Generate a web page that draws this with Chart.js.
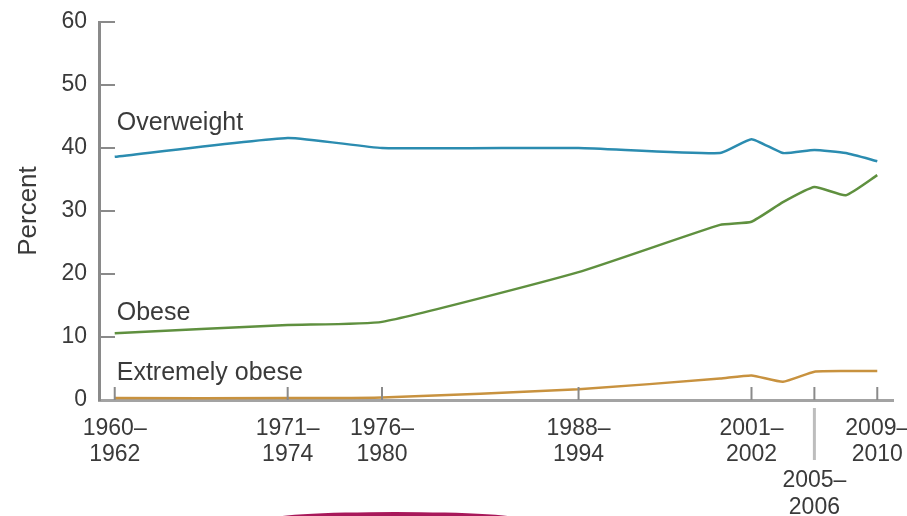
<!DOCTYPE html>
<html>
<head>
<meta charset="utf-8">
<script src="https://cdn.jsdelivr.net/npm/chart.js@4"></script>
<style>
  body { margin: 0; background: #fff; }
</style>
</head>
<body>
<canvas id="chart" width="907" height="516"></canvas>
<script>
// survey periods, plotted at their mid year
const surveyYears = [1961, 1972, 1978, 1990.5, 1999.5, 2001.5, 2003.5, 2005.5, 2007.5, 2009.5];
const overweight = [38.6, 41.6, 40.0, 40.0, 39.2, 41.4, 39.2, 39.7, 39.2, 37.9];
const obese = [10.6, 11.9, 12.4, 20.3, 27.8, 28.3, 31.4, 33.8, 32.5, 35.7];
const extremelyObese = [0.3, 0.3, 0.4, 1.7, 3.4, 3.9, 2.9, 4.5, 4.6, 4.6];

const tickYears = [1961, 1972, 1978, 1990.5, 2001.5, 2005.5, 2009.5];
const tickLabels = [
  ['1960–', '1962'],
  ['1971–', '1974'],
  ['1976–', '1980'],
  ['1988–', '1994'],
  ['2001–', '2002'],
  ['', '', '2005–', '2006'],
  ['2009–', '2010']
];
const yTicks = [0, 10, 20, 30, 40, 50, 60];

const seriesNames = ['Overweight', 'Obese', 'Extremely obese'];
const seriesLabelY = [44, 13.8, 4.3];
const colors = ['#2b8cb0', '#5f903f', '#c8923f'];

const FONT = '"Liberation Sans", Arial, sans-serif';
const TEXT = '#3a3a3a';

const toPoints = vals => vals.map((v, i) => ({ x: surveyYears[i], y: v }));

const extras = {
  id: 'extras',
  afterDraw(chart) {
    const { ctx, scales: { x, y } } = chart;
    ctx.save();
    // inner tick marks
    ctx.strokeStyle = '#8a8a8a';
    ctx.lineWidth = 2;
    yTicks.forEach(v => {
      if (v === 0) return;
      const py = y.getPixelForValue(v);
      ctx.beginPath();
      ctx.moveTo(x.left, py);
      ctx.lineTo(x.left + 16, py);
      ctx.stroke();
    });
    tickYears.forEach(v => {
      const px = x.getPixelForValue(v);
      ctx.beginPath();
      ctx.moveTo(px, y.bottom);
      ctx.lineTo(px, y.bottom - 13);
      ctx.stroke();
    });
    // connector for the lowered 2005–2006 label
    const pc = x.getPixelForValue(tickYears[5]);
    ctx.strokeStyle = '#bdbdbd';
    ctx.lineWidth = 3;
    ctx.beginPath();
    ctx.moveTo(pc, y.bottom + 8);
    ctx.lineTo(pc, y.bottom + 60);
    ctx.stroke();
    // series labels
    ctx.font = '25px ' + FONT;
    ctx.fillStyle = TEXT;
    ctx.textBaseline = 'middle';
    seriesNames.forEach((name, i) => {
      ctx.fillText(name, x.getPixelForValue(surveyYears[0]) + 2, y.getPixelForValue(seriesLabelY[i]));
    });
    // partial shape at the bottom edge
    ctx.fillStyle = '#a8185a';
    ctx.beginPath();
    ctx.ellipse(395, 520, 130, 8, 0, 0, Math.PI * 2);
    ctx.fill();
    ctx.restore();
  }
};

new Chart(document.getElementById('chart'), {
  type: 'line',
  data: {
    datasets: [
      { label: seriesNames[0], data: toPoints(overweight), borderColor: colors[0] },
      { label: seriesNames[1], data: toPoints(obese), borderColor: colors[1] },
      { label: seriesNames[2], data: toPoints(extremelyObese), borderColor: colors[2] }
    ].map(d => Object.assign(d, {
      borderWidth: 2.5,
      pointRadius: 0,
      fill: false,
      tension: 0.15,
      clip: false
    }))
  },
  options: {
    responsive: false,
    animation: false,
    layout: { padding: { top: 22, right: 14, bottom: 0, left: 0 } },
    plugins: {
      legend: { display: false },
      tooltip: { enabled: false }
    },
    scales: {
      x: {
        type: 'linear',
        min: 1960,
        max: 2010.5,
        afterBuildTicks: s => { s.ticks = tickYears.map(v => ({ value: v })); },
        afterFit: s => { s.height = 116; s.paddingLeft = 0; s.paddingRight = 0; },
        grid: { color: 'transparent', drawTicks: false },
        border: { color: '#a3a3a3', width: 3 },
        ticks: {
          autoSkip: false,
          maxRotation: 0,
          padding: 15,
          color: TEXT,
          font: { family: FONT, size: 23, lineHeight: 1.15 },
          callback: v => tickLabels[tickYears.indexOf(v)]
        }
      },
      y: {
        min: 0,
        max: 60,
        afterBuildTicks: s => { s.ticks = yTicks.map(v => ({ value: v })); },
        afterFit: s => { s.width = 99; s.paddingTop = 0; s.paddingBottom = 0; },
        grid: { color: 'transparent', drawTicks: false },
        border: { color: '#8a8a8a', width: 3 },
        ticks: {
          padding: 12,
          color: TEXT,
          font: { family: FONT, size: 23 }
        },
        title: {
          display: true,
          text: 'Percent',
          color: TEXT,
          padding: { top: 13, bottom: 0 },
          font: { family: FONT, size: 26 }
        }
      }
    }
  },
  plugins: [extras]
});
</script>
</body>
</html>
